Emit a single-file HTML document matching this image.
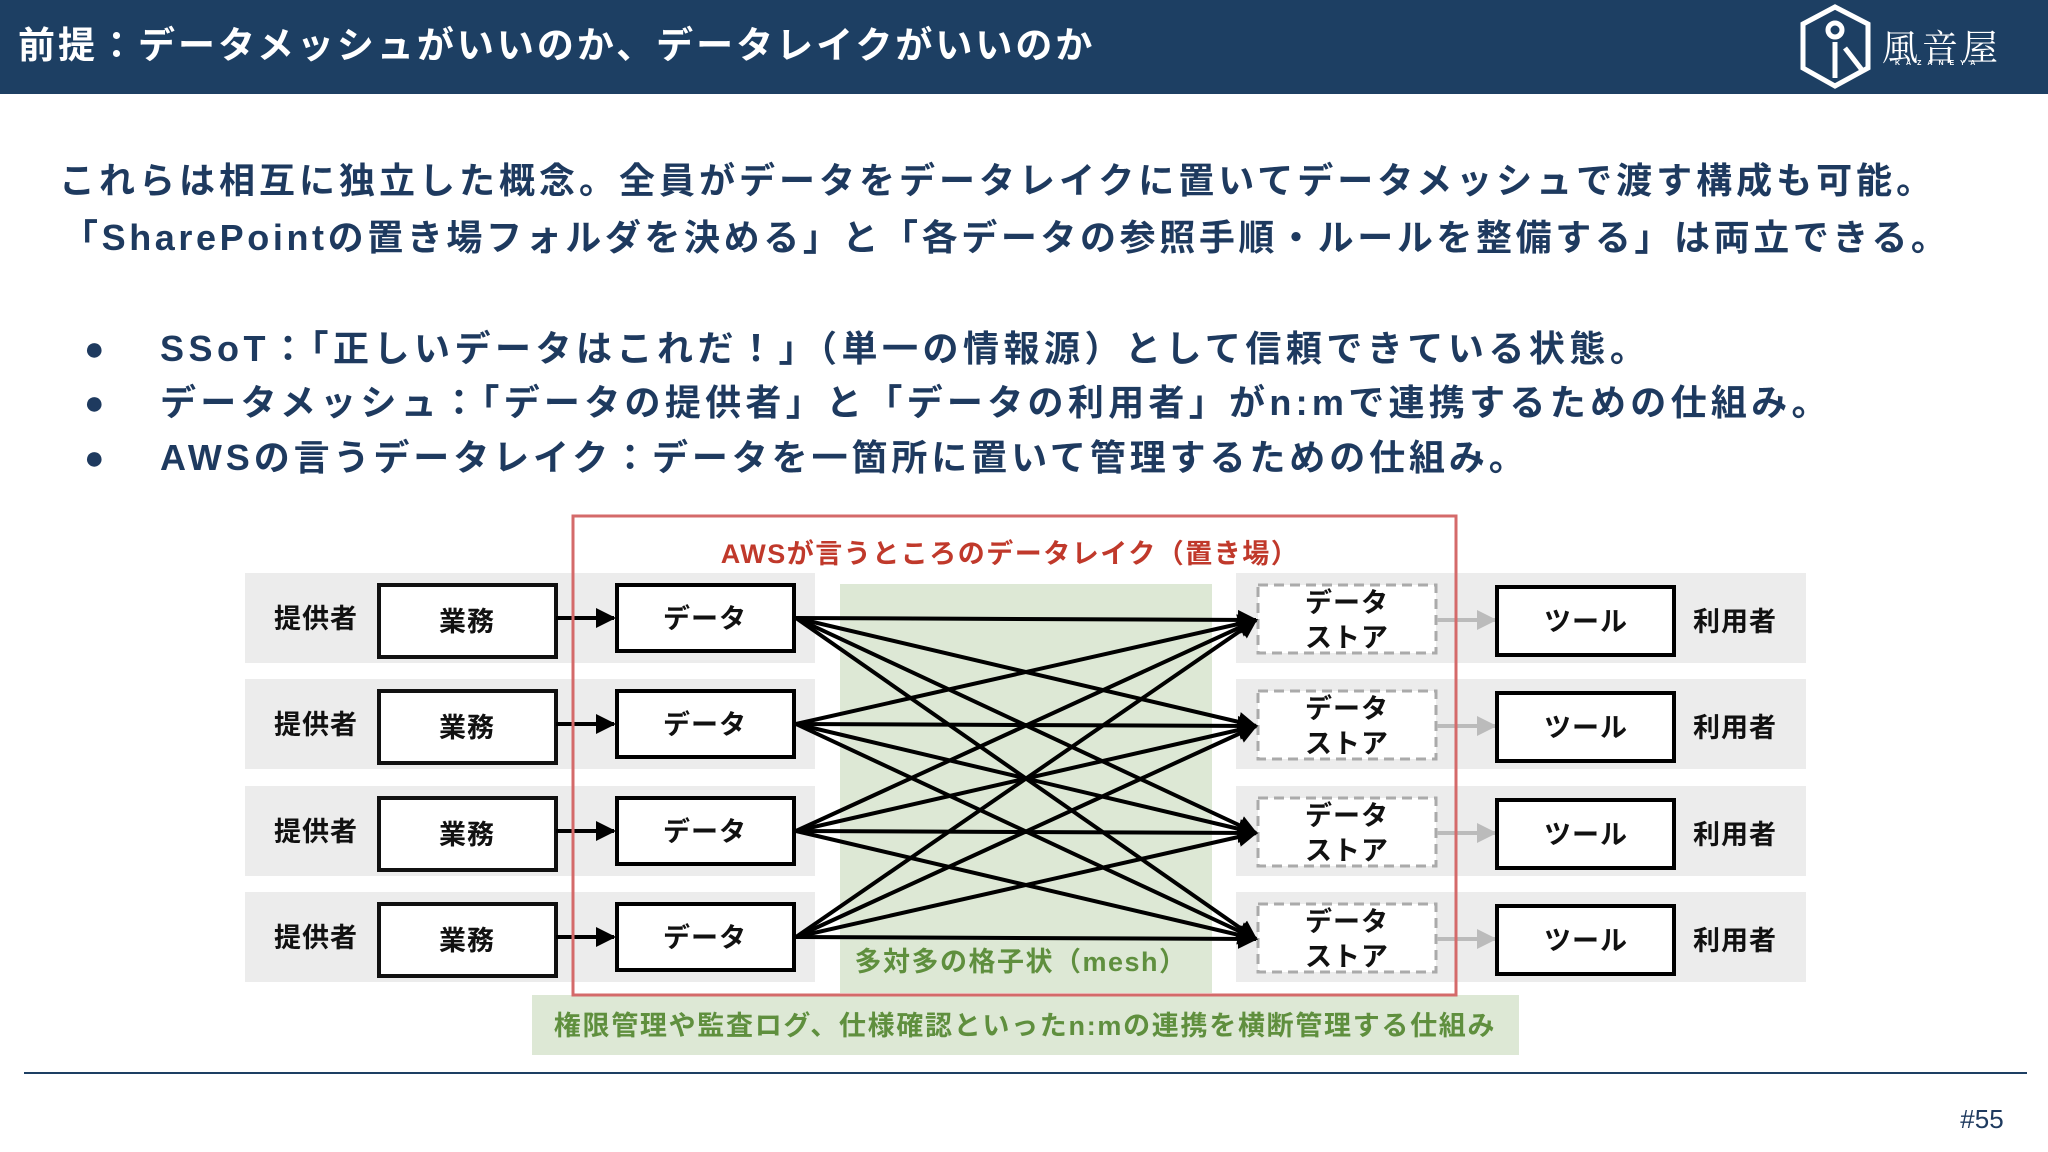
<!DOCTYPE html>
<html><head><meta charset="utf-8"><style>
body{margin:0;width:2048px;height:1152px;position:relative;background:#fff;overflow:hidden;font-family:"Liberation Sans","Noto Sans CJK JP",sans-serif}
.hdr{position:absolute;left:0;top:0;width:2048px;height:94px;background:#1d3f63}
.t{position:absolute;white-space:nowrap;font-weight:bold}
svg{position:absolute;left:0;top:0}
</style></head><body>
<div class="hdr"></div>
<div class="t" style="left:18px;top:22px;font-size:37px;color:#fff;line-height:48px;letter-spacing:3px">前提：データメッシュがいいのか、データレイクがいいのか</div>
<div class="t" style="left:1882px;top:20px;font-size:36px;color:#fff;font-weight:normal;font-family:'Noto Serif CJK SC',serif;letter-spacing:4px">風音屋</div>
<div class="t" style="left:1895px;top:60px;font-size:7px;color:#fff;letter-spacing:6px">KAZANEYA</div>
<div class="t" style="left:59px;top:156px;font-size:36px;color:#1e3a5f;line-height:50px;letter-spacing:4px">これらは相互に独立した概念。全員がデータをデータレイクに置いてデータメッシュで渡す構成も可能。</div>
<div class="t" style="left:62px;top:213px;font-size:36px;color:#1e3a5f;line-height:50px;letter-spacing:3.6px">「SharePointの置き場フォルダを決める」と「各データの参照手順・ルールを整備する」は両立できる。</div>
<div class="t" style="left:84px;top:324px;font-size:34px;color:#1e3a5f;line-height:50px">●</div>
<div class="t" style="left:84px;top:378px;font-size:34px;color:#1e3a5f;line-height:50px">●</div>
<div class="t" style="left:84px;top:433px;font-size:34px;color:#1e3a5f;line-height:50px">●</div>
<div class="t" style="left:160px;top:324px;font-size:36px;color:#1e3a5f;line-height:50px;letter-spacing:4.5px">SSoT：「正しいデータはこれだ！」（単一の情報源）として信頼できている状態。</div>
<div class="t" style="left:160px;top:378px;font-size:36px;color:#1e3a5f;line-height:50px;letter-spacing:4.3px">データメッシュ：「データの提供者」と「データの利用者」がn:mで連携するための仕組み。</div>
<div class="t" style="left:160px;top:433px;font-size:36px;color:#1e3a5f;line-height:50px;letter-spacing:3.9px">AWSの言うデータレイク：データを一箇所に置いて管理するための仕組み。</div>

<svg width="2048" height="1152" viewBox="0 0 2048 1152">
<defs>
<marker id="a" viewBox="0 0 10 10" refX="9" refY="5" markerWidth="5" markerHeight="5" orient="auto"><path d="M0,0L10,5L0,10z" fill="#000"/></marker>
<marker id="g" viewBox="0 0 10 10" refX="9" refY="5" markerWidth="5" markerHeight="5" orient="auto"><path d="M0,0L10,5L0,10z" fill="#bbb"/></marker>
</defs>
<g fill="#ececec">
<rect x="245" y="573" width="570" height="90"/><rect x="245" y="679" width="570" height="90"/><rect x="245" y="786" width="570" height="90"/><rect x="245" y="892" width="570" height="90"/>
<rect x="1236" y="573" width="570" height="90"/><rect x="1236" y="679" width="570" height="90"/><rect x="1236" y="786" width="570" height="90"/><rect x="1236" y="892" width="570" height="90"/>
</g>
<rect x="840" y="584" width="372" height="409" fill="#dde8d5"/>
<rect x="532" y="995" width="987" height="60" fill="#dde8d5"/>
<g font-family="Liberation Sans, Noto Sans CJK JP, sans-serif" font-weight="bold" font-size="27" text-anchor="middle" fill="#111" letter-spacing="1">
<g id="r">
<text x="316" y="628">提供者</text>
<rect x="379" y="585" width="177" height="72" fill="#fff" stroke="#111" stroke-width="4"/>
<text x="467" y="631">業務</text>
<line x1="556" y1="618" x2="614" y2="618" stroke="#000" stroke-width="4" marker-end="url(#a)"/>
<rect x="617" y="585" width="177" height="66" fill="#fff" stroke="#000" stroke-width="4"/>
<text x="705" y="628">データ</text>
<rect x="1258" y="585" width="178" height="68" fill="#fff" stroke="#aaa" stroke-width="3" stroke-dasharray="10,6"/>
<text x="1347" y="612">データ</text><text x="1347" y="647">ストア</text>
<line x1="1437" y1="620" x2="1495" y2="620" stroke="#bbb" stroke-width="4" marker-end="url(#g)"/>
<rect x="1497" y="587" width="177" height="68" fill="#fff" stroke="#000" stroke-width="4"/>
<text x="1586" y="631">ツール</text>
<text x="1735" y="631">利用者</text>
</g>
<use href="#r" y="106"/><use href="#r" y="213"/><use href="#r" y="319"/>
</g>
<g stroke="#000" stroke-width="4" marker-end="url(#a)">
<line x1="796" y1="618" x2="1256" y2="620"/><line x1="796" y1="618" x2="1256" y2="726"/><line x1="796" y1="618" x2="1256" y2="833"/><line x1="796" y1="618" x2="1256" y2="939"/>
<line x1="796" y1="724" x2="1256" y2="620"/><line x1="796" y1="724" x2="1256" y2="726"/><line x1="796" y1="724" x2="1256" y2="833"/><line x1="796" y1="724" x2="1256" y2="939"/>
<line x1="796" y1="831" x2="1256" y2="620"/><line x1="796" y1="831" x2="1256" y2="726"/><line x1="796" y1="831" x2="1256" y2="833"/><line x1="796" y1="831" x2="1256" y2="939"/>
<line x1="796" y1="937" x2="1256" y2="620"/><line x1="796" y1="937" x2="1256" y2="726"/><line x1="796" y1="937" x2="1256" y2="833"/><line x1="796" y1="937" x2="1256" y2="939"/>
</g>
<rect x="573" y="516" width="883" height="479" fill="none" stroke="#d46a6a" stroke-width="3"/>
<g font-family="Liberation Sans, Noto Sans CJK JP, sans-serif" font-weight="bold" text-anchor="middle">
<text x="1010" y="563" font-size="27" fill="#c0392b" letter-spacing="1.5">AWSが言うところのデータレイク（置き場）</text>
<text x="1021" y="971" font-size="27" fill="#5f8f3e" letter-spacing="1.5">多対多の格子状（mesh）</text>
<text x="1025" y="1035" font-size="27" fill="#5f8f3e" letter-spacing="1.7">権限管理や監査ログ、仕様確認といったn:mの連携を横断管理する仕組み</text>
</g>
<line x1="24" y1="1073" x2="2027" y2="1073" stroke="#1d3f63" stroke-width="2"/>
<text x="1982" y="1128" font-family="Liberation Sans, sans-serif" font-size="26" fill="#1e3a5f" text-anchor="middle">#55</text>
<g fill="none" stroke="#fff" stroke-width="5"><path d="M1803,24 L1835,7 L1868,24 L1868,68 L1835,86 L1803,68 Z"/><circle cx="1835" cy="30" r="7"/><path d="M1835,42 L1835,78 M1845,48 L1862,70"/></g>
</svg>
</body></html>
